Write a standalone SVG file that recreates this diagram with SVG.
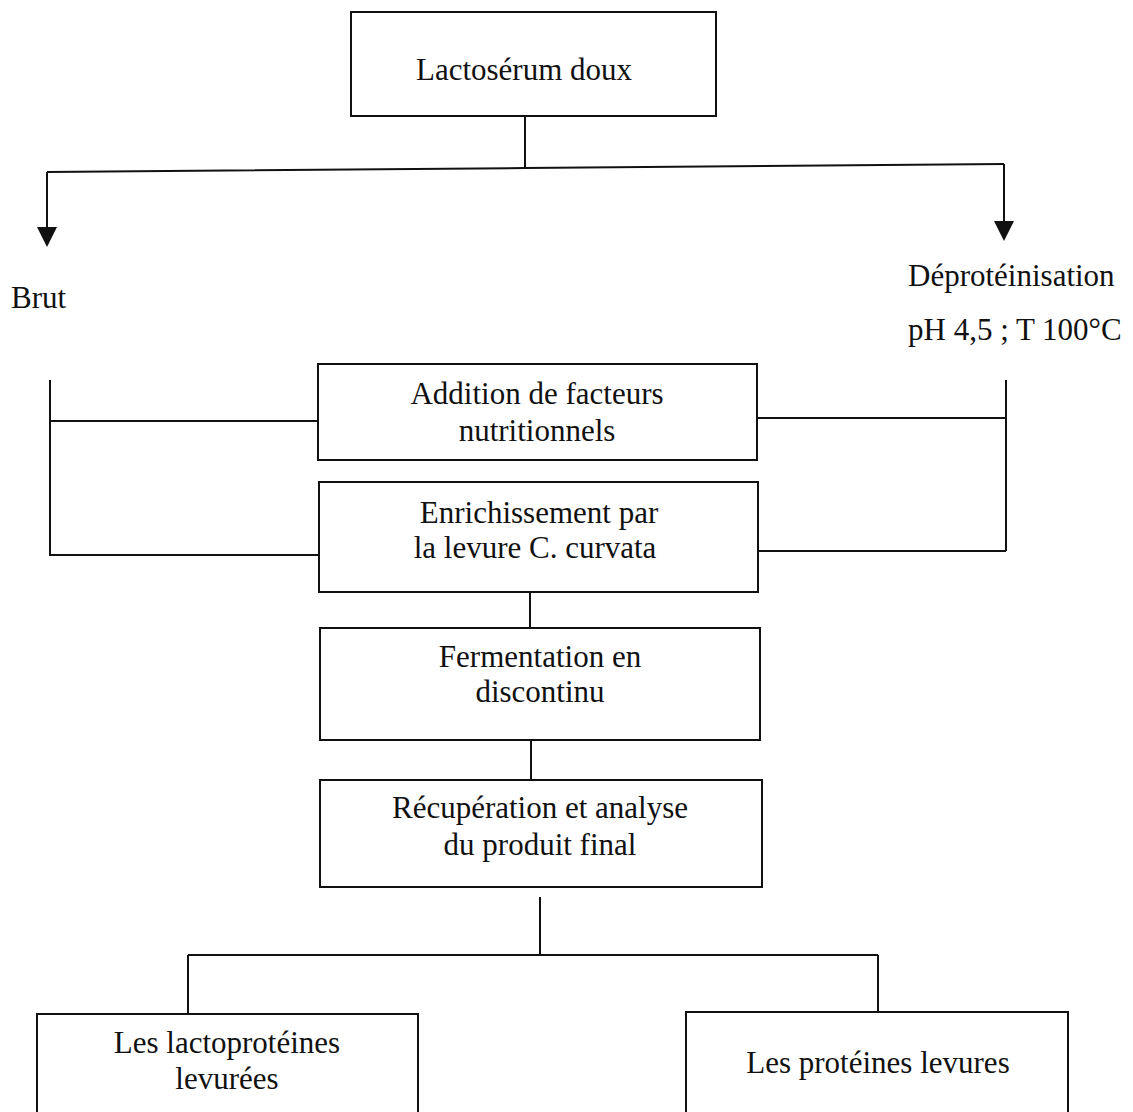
<svg xmlns="http://www.w3.org/2000/svg" width="1133" height="1112" viewBox="0 0 1133 1112">
<defs>
<style>
.box{fill:#fff;stroke:#111;stroke-width:2}
.ln{fill:none;stroke:#111;stroke-width:2}
.head{fill:#111}
text{font-family:"Liberation Serif","Times New Roman",serif;font-size:31px;fill:#111;text-anchor:middle}
text.l{text-anchor:start}
</style>
</defs>
<rect width="1133" height="1112" fill="#fff"/>
<g id="connectors">
<path class="ln" d="M525,116 V168"/>
<path class="ln" d="M47,172 L525,168 L1004,164"/>
<path d="M47,172 V230" class="ln"/>
<path class="head" d="M37,227 L57,227 L47,247 Z"/>
<path d="M1004,164 V224" class="ln"/>
<path class="head" d="M994,221 L1014,221 L1004,241 Z"/>
<path class="ln" d="M50,380 V556"/>
<path class="ln" d="M50,421 H318"/>
<path class="ln" d="M50,555 H319"/>
<path class="ln" d="M1006,380 V551"/>
<path class="ln" d="M757,418 H1006"/>
<path class="ln" d="M758,551 H1006"/>
<path class="ln" d="M530,592 V628"/>
<path class="ln" d="M531,740 V780"/>
<path class="ln" d="M540,897 V955"/>
<path class="ln" d="M188,955 H878"/>
<path class="ln" d="M188,955 V1014"/>
<path class="ln" d="M878,955 V1012"/>
</g>
<g id="n-lactoserum">
<rect class="box" x="351" y="12" width="365" height="104"/>
<text x="524" y="80">Lactosérum doux</text>
</g>
<g id="n-brut">
<text class="l" x="11" y="308">Brut</text>
</g>
<g id="n-deprot">
<text class="l" x="908" y="286">Déprotéinisation</text>
<text class="l" x="908" y="340">pH 4,5 ; T 100°C</text>
</g>
<g id="n-addition">
<rect class="box" x="318" y="364" width="439" height="96"/>
<text x="537" y="404">Addition de facteurs</text>
<text x="537" y="441">nutritionnels</text>
</g>
<g id="n-enrich">
<rect class="box" x="319" y="482" width="439" height="110"/>
<text x="539" y="523">Enrichissement par</text>
<text x="535" y="558">la levure C. curvata</text>
</g>
<g id="n-ferment">
<rect class="box" x="320" y="628" width="440" height="112"/>
<text x="540" y="667">Fermentation en</text>
<text x="540" y="702">discontinu</text>
</g>
<g id="n-recup">
<rect class="box" x="320" y="780" width="442" height="107"/>
<text x="540" y="818">Récupération et analyse</text>
<text x="540" y="855">du produit final</text>
</g>
<g id="n-lacto">
<rect class="box" x="37" y="1014" width="381" height="110"/>
<text x="227" y="1053">Les lactoprotéines</text>
<text x="227" y="1089">levurées</text>
</g>
<g id="n-prot">
<rect class="box" x="686" y="1012" width="382" height="112"/>
<text x="878" y="1073">Les protéines levures</text>
</g>
</svg>
